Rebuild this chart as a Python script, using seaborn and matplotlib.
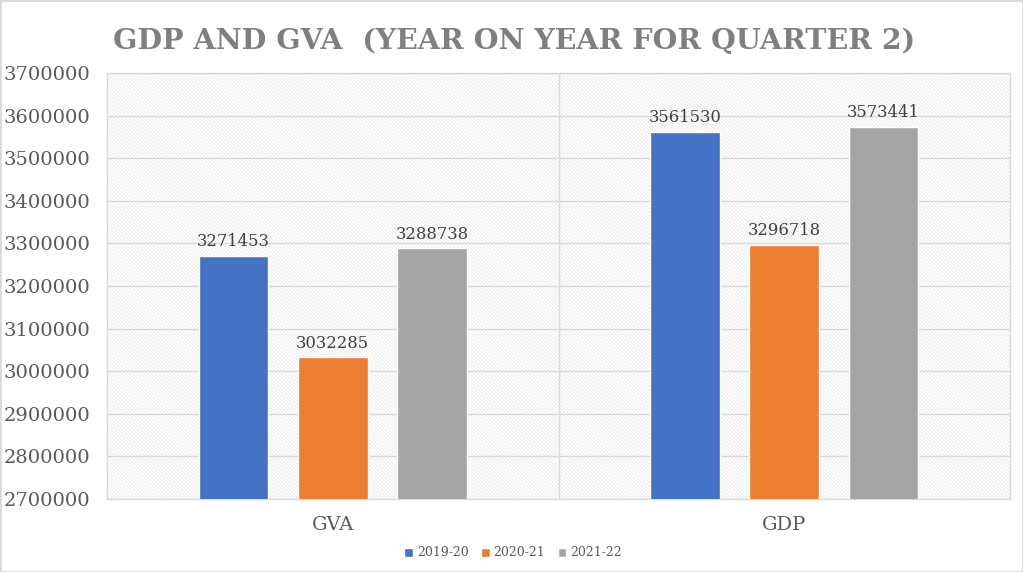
import pandas as pd
import matplotlib.pyplot as plt
import seaborn as sns
from matplotlib.patches import Rectangle
from matplotlib.ticker import StrMethodFormatter

# Chart data
categories = ['GVA', 'GDP']
years = ['2019-20', '2020-21', '2021-22']
values_2019 = [3271453, 3561530]
values_2020 = [3032285, 3296718]
values_2021 = [3288738, 3573441]
colors = ['#4472C4', '#ED7D31', '#A5A5A5']

df = pd.DataFrame({
    'category': categories * 3,
    'year': [years[0]] * 2 + [years[1]] * 2 + [years[2]] * 2,
    'value': values_2019 + values_2020 + values_2021,
})

sns.set_style('white')
plt.rcParams['font.family'] = ['DejaVu Serif']

fig = plt.figure(figsize=(10.23, 5.72), dpi=100)
ax = fig.add_axes([107 / 1023, 1 - 499 / 572, (1010 - 107) / 1023, (499 - 73) / 572])

# hatched plot background
plt.rcParams['hatch.color'] = '#e3e3e3'
plt.rcParams['hatch.linewidth'] = 0.5
ax.add_patch(Rectangle((0, 0), 1, 1, transform=ax.transAxes, facecolor='white',
                       hatch='\\' * 9, edgecolor='#e3e3e3', linewidth=0, zorder=0))

sns.barplot(data=df, x='category', y='value', hue='year', palette=colors,
            width=0.66, gap=0.3, ax=ax, zorder=3, saturation=1)

ax.set_ylim(2700000, 3700000)
ax.set_xlim(-0.5, 1.5)
ax.set_yticks(range(2700000, 3700001, 100000))
ax.yaxis.set_major_formatter(StrMethodFormatter('{x:.0f}'))
ax.yaxis.grid(True, color='#d9d9d9', linewidth=1, zorder=1)
ax.axvline(0.5, color='#d9d9d9', linewidth=1, zorder=1)
ax.set_axisbelow(True)
for s in ax.spines.values():
    s.set_color('#d9d9d9')
    s.set_linewidth(1)

for c in ax.containers:
    ax.bar_label(c, fmt='%d', padding=4, fontsize=11.8, color='#404040', zorder=5)

ax.set_xlabel('')
ax.set_ylabel('')
ax.tick_params(axis='y', labelsize=14, labelcolor='#595959', length=0, pad=12)
ax.tick_params(axis='x', labelsize=14, labelcolor='#595959', length=0, pad=12)

ax.legend(loc='center', bbox_to_anchor=(513 / 1023, 1 - 553 / 572),
          bbox_transform=fig.transFigure, ncol=3, frameon=False,
          fontsize=9, handlelength=0.7, handleheight=0.7, handletextpad=0.3,
          columnspacing=1.0, labelcolor='#595959')

fig.text(514 / 1023, 1 - 42 / 572, 'GDP AND GVA  (YEAR ON YEAR FOR QUARTER 2)',
         ha='center', va='center', fontsize=20.5, fontweight='bold', color='#7f7f7f')

fig.add_artist(Rectangle((0, 0), 1, 1, transform=fig.transFigure, fill=False,
                         edgecolor='#d9d9d9', linewidth=2))

fig.savefig('out.png', dpi=100)
